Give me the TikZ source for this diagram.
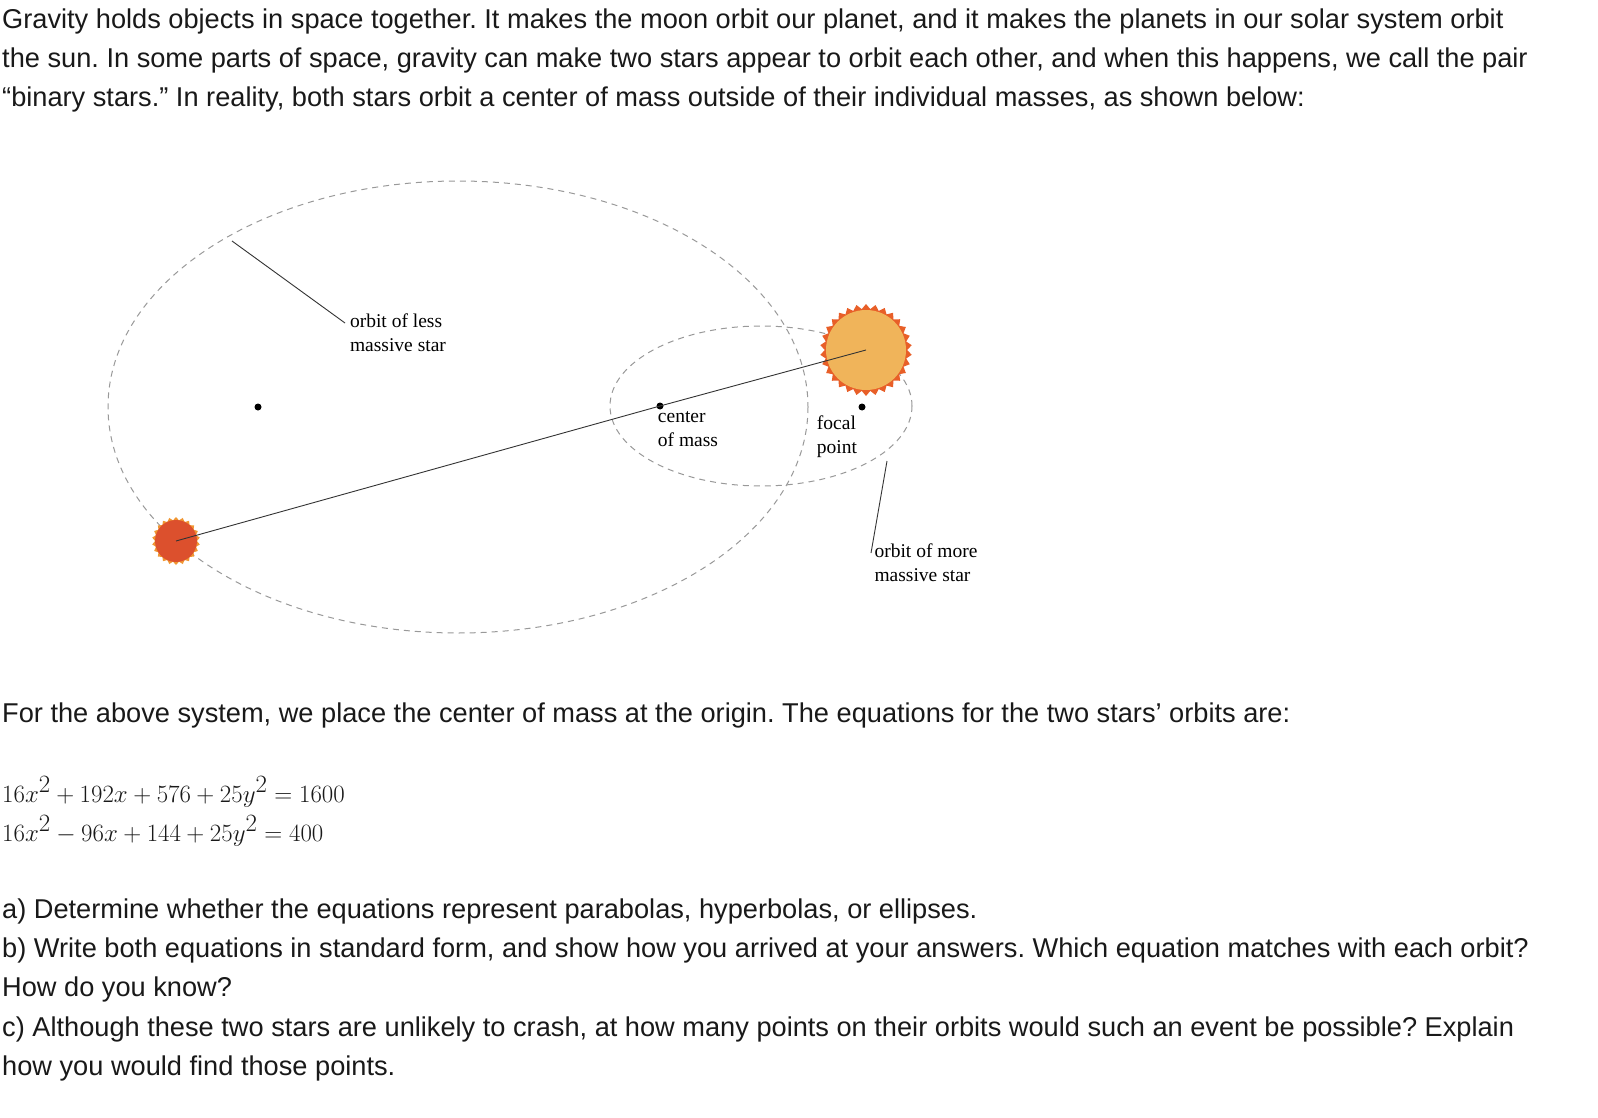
\documentclass[tikz,border=0pt]{standalone}
\usepackage{fontspec}
\setmainfont{Liberation Sans}
\newfontfamily\labfont{Liberation Serif}
\usetikzlibrary{shapes.geometric}
\definecolor{sunfill}{RGB}{240,180,90}
\definecolor{sunrim}{RGB}{232,95,40}
\definecolor{redfill}{RGB}{220,80,45}
\definecolor{redrim}{RGB}{240,150,50}
\begin{document}
\begin{tikzpicture}[x=1pt,y=-1pt,
  para/.style={anchor=base west,inner sep=0pt,font=\frenchspacing\fontsize{27.2}{30}\selectfont,text=black!90},
  eq/.style={anchor=base west,inner sep=0pt,font=\fontsize{37}{40}\selectfont,text=black!90},
  lab/.style={align=left,inner sep=0pt,font=\labfont\fontsize{19.5}{24}\selectfont,text=black},
  orb/.style={dashed,dash pattern=on 6pt off 5pt,gray!80,line width=1pt},
  thin/.style={gray!40!black,line width=0.9pt}]
\useasboundingbox (0,0) rectangle (1598,1118);
\fill[white] (0,0) rectangle (1598,1118);
\node[para] (t1) at (2,29) {Gravity holds objects in space together. It makes the moon orbit our planet, and it makes the planets in our solar system orbit};
\node[para] (t2) at (2,68) {the sun. In some parts of space, gravity can make two stars appear to orbit each other, and when this happens, we call the pair};
\node[para] (t3) at (2,107) {“binary stars.” In reality, both stars orbit a center of mass outside of their individual masses, as shown below:};
% orbits
\draw[orb] (458,407) ellipse [x radius=350,y radius=226];
\draw[orb] (761,406) ellipse [x radius=151,y radius=80];
% stars
\node[star,star points=30,star point ratio=1.12,minimum size=92pt,fill=sunrim,inner sep=0pt] (sunb) at (866,350) {};
\node[circle,minimum size=80pt,fill=sunfill,inner sep=0pt] (sun) at (866,350) {};
\node[star,star points=22,star point ratio=1.15,minimum size=48pt,fill=redrim,inner sep=0pt] (redb) at (176,541) {};
\node[circle,minimum size=42pt,fill=redfill,inner sep=0pt] (red) at (176,541) {};
\coordinate (cm) at (660,406);
\fill (cm) circle (3.5pt);
\fill (258,407) circle (3.5pt);
\fill (862,407) circle (3.5pt);
\draw[thin] (red.center) -- (cm) -- (sun.center);
% labels
\coordinate (l1a) at (232,241);
\coordinate (l1b) at (345,323);
\draw[thin] (l1a) -- (l1b);
\node[lab] (lab1) at (398,333) {orbit of less\\massive star};
\node[lab] (lab2) at (688,429) {center\\of mass};
\node[lab] (lab3) at (837,437) {focal\\point};
\coordinate (l2a) at (887,461);
\coordinate (l2b) at (871,553);
\draw[thin] (l2a) -- (l2b);
\node[lab] (lab4) at (926,563) {orbit of more\\massive star};
% bottom
\node[para] (b1) at (2,722) {For the above system, we place the center of mass at the origin. The equations for the two stars’ orbits are:};
\node[eq] (e1) at (2,802) {$16x^2+192x+576+25y^2=1600$};
\node[eq] (e2) at (2,841) {$16x^2-96x+144+25y^2=400$};
\node[para] (q1) at (2,918) {a) Determine whether the equations represent parabolas, hyperbolas, or ellipses.};
\node[para] (q2) at (2,957) {b) Write both equations in standard form, and show how you arrived at your answers. Which equation matches with each orbit?};
\node[para] (q3) at (2,996) {How do you know?};
\node[para] (q4) at (2,1036) {c) Although these two stars are unlikely to crash, at how many points on their orbits would such an event be possible? Explain};
\node[para] (q5) at (2,1075) {how you would find those points.};
\end{tikzpicture}
\end{document}
